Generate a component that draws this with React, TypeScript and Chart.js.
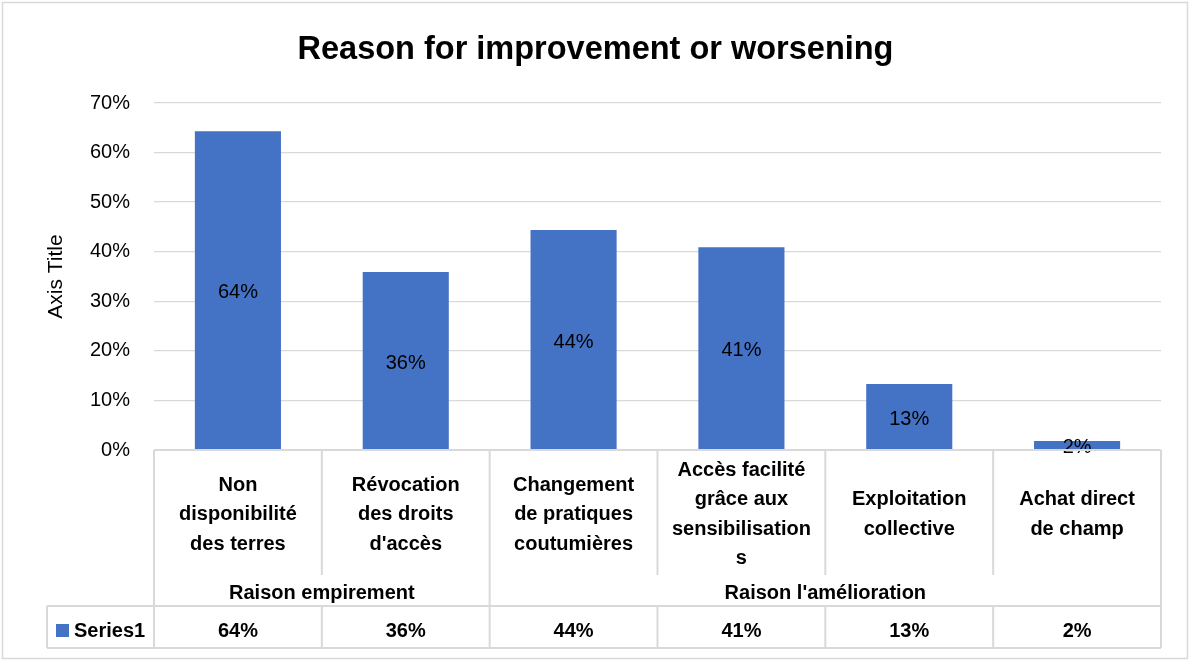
import React, { useEffect, useRef } from "react";
import { Chart, registerables } from "chart.js";

Chart.register(...registerables);

const title = "Reason for improvement or worsening";
const yAxisTitle = "Axis Title";
const seriesName = "Series1";
const categories: string[][] = [
  ["Non", "disponibilité", "des terres"],
  ["Révocation", "des droits", "d'accès"],
  ["Changement", "de pratiques", "coutumières"],
  ["Accès facilité", "grâce aux", "sensibilisation", "s"],
  ["Exploitation", "collective"],
  ["Achat direct", "de champ"],
];
const groupLabels = ["Raison empirement", "Raison l'amélioration"];
const groupSpans = [2, 4];
const values = [64.3, 35.9, 44.4, 40.9, 13.3, 1.8];
const yTicks = [0, 10, 20, 30, 40, 50, 60, 70];

const FONT = "'Liberation Sans', Arial, sans-serif";
const BAR = "#4472C4";
const LINE = "#d9d9d9";

export default function App() {
  const ref = useRef<HTMLCanvasElement | null>(null);
  useEffect(() => {
    if (!ref.current) return;
    const fmt = (v: number) => Math.round(v) + "%";

    const borderPlugin = {
      id: "outerBorder",
      beforeDraw(chart: any) {
        const ctx = chart.ctx;
        ctx.save();
        ctx.fillStyle = "#fff";
        ctx.fillRect(0, 0, chart.width, chart.height);
        ctx.strokeStyle = LINE;
        ctx.lineWidth = 1.5;
        ctx.strokeRect(2.5, 2.5, chart.width - 5, chart.height - 5);
        ctx.restore();
      },
    };

    const labelPlugin = {
      id: "barLabels",
      afterDatasetsDraw(chart: any) {
        const ctx = chart.ctx;
        const meta = chart.getDatasetMeta(0);
        ctx.save();
        ctx.font = `20px ${FONT}`;
        ctx.fillStyle = "#000";
        ctx.textAlign = "center";
        ctx.textBaseline = "middle";
        meta.data.forEach((el: any, i: number) => {
          const y = (el.y + el.base) / 2 + 2.5;
          ctx.fillText(fmt(values[i]), el.x, y);
        });
        ctx.restore();
      },
    };

    const tablePlugin = {
      id: "dataTable",
      afterDraw(chart: any) {
        const ctx = chart.ctx;
        const area = chart.chartArea;
        const n = categories.length;
        const w = (area.right - area.left) / n;
        const top = area.bottom;
        const catBottom = 575;
        const grpBottom = 606;
        const rowBottom = 648;
        const legendLeft = 47;
        const bx = (i: number) => area.left + i * w;

        ctx.save();
        ctx.strokeStyle = LINE;
        ctx.lineWidth = 2;
        const line = (x1: number, y1: number, x2: number, y2: number) => {
          ctx.beginPath();
          ctx.moveTo(x1, y1);
          ctx.lineTo(x2, y2);
          ctx.stroke();
        };
        line(area.left, top, area.right, top);
        for (let i = 0; i <= n; i++) line(bx(i), top, bx(i), catBottom);
        let acc = 0;
        const groupBounds = [0];
        groupSpans.forEach((s) => {
          acc += s;
          groupBounds.push(acc);
        });
        groupBounds.forEach((g) => line(bx(g), catBottom, bx(g), grpBottom));
        line(legendLeft, grpBottom, area.right, grpBottom);
        line(legendLeft, rowBottom, area.right, rowBottom);
        line(legendLeft, grpBottom, legendLeft, rowBottom);
        for (let i = 0; i <= n; i++) line(bx(i), grpBottom, bx(i), rowBottom);

        ctx.fillStyle = "#000";
        ctx.textAlign = "center";
        ctx.textBaseline = "middle";
        ctx.font = `bold 20px ${FONT}`;
        const lh = 29.5;
        categories.forEach((lines, i) => {
          const cx = bx(i) + w / 2;
          const cy = (top + catBottom) / 2 + 2;
          const y0 = cy - ((lines.length - 1) * lh) / 2;
          lines.forEach((t, k) => ctx.fillText(t, cx, y0 + k * lh));
        });
        groupLabels.forEach((g, i) => {
          const cx = (bx(groupBounds[i]) + bx(groupBounds[i + 1])) / 2;
          ctx.fillText(g, cx, (catBottom + grpBottom) / 2 + 3);
        });
        const ry = (grpBottom + rowBottom) / 2 + 4;
        values.forEach((v, i) => ctx.fillText(fmt(v), bx(i) + w / 2, ry));
        ctx.fillStyle = BAR;
        ctx.fillRect(56, ry - 7, 13, 13);
        ctx.fillStyle = "#000";
        ctx.textAlign = "left";
        ctx.fillText(seriesName, 74, ry);
        ctx.restore();
      },
    };

    const chart = new Chart(ref.current, {
      type: "bar",
      data: {
        labels: categories.map((c) => c.join(" ")),
        datasets: [
          {
            label: seriesName,
            data: values,
            backgroundColor: BAR,
            borderWidth: 0,
            barPercentage: 0.513,
            categoryPercentage: 1,
          },
        ],
      },
      options: {
        responsive: false,
        animation: false,
        layout: { padding: { top: 12, left: 30, right: 29, bottom: 0 } },
        plugins: {
          legend: { display: false },
          tooltip: { enabled: false },
          title: {
            display: true,
            text: title,
            color: "#000",
            font: { family: FONT, size: 32.5, weight: "bold", lineHeight: 1.2 },
            padding: { top: 18.5, bottom: 33.5 },
          },
        },
        scales: {
          x: {
            grid: { display: false },
            border: { display: false },
            ticks: { display: false },
            afterFit(scale: any) {
              scale.height = 211;
            },
          },
          y: {
            min: 0,
            max: 70,
            afterBuildTicks(scale: any) {
              scale.ticks = yTicks.map((v) => ({ value: v }));
            },
            grid: { color: LINE, lineWidth: 1.3, drawTicks: false },
            border: { display: false },
            ticks: {
              color: "#000",
              padding: 24,
              font: { family: FONT, size: 20 },
              callback: (v: any) => v + "%",
            },
            title: {
              display: true,
              text: yAxisTitle,
              color: "#000",
              font: { family: FONT, size: 21 },
              padding: { top: 14, bottom: 0 },
            },
            afterFit(scale: any) {
              scale.width = 124;
            },
          },
        },
      },
      plugins: [borderPlugin, labelPlugin, tablePlugin],
    });
    return () => chart.destroy();
  }, []);

  return (
    <div style={{ position: "fixed", left: 0, top: 0, width: 1190, height: 661 }}>
      <canvas ref={ref} width={1190} height={661} style={{ display: "block" }} />
    </div>
  );
}
